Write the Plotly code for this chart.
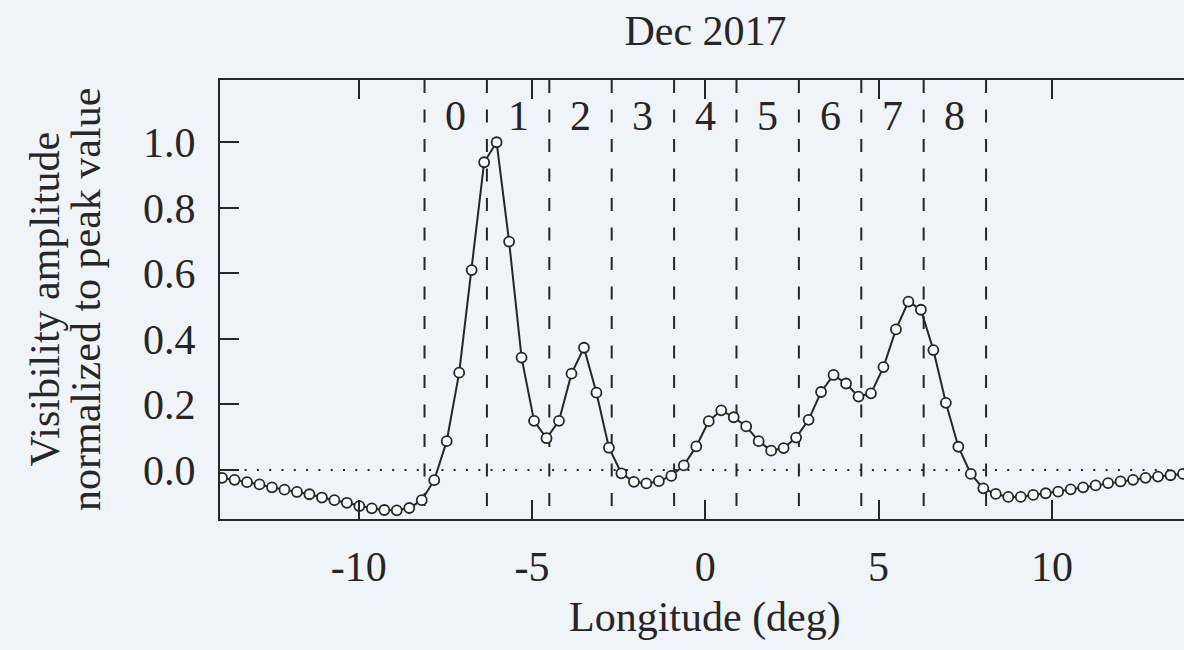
import plotly.graph_objects as go

# ---- data ----
longitude = [-13.94, -13.58, -13.22, -12.86, -12.50, -12.14, -11.78, -11.42, -11.06, -10.70,
             -10.34, -9.98, -9.62, -9.26, -8.90, -8.54, -8.18, -7.82, -7.46, -7.10,
             -6.74, -6.38, -6.02, -5.66, -5.30, -4.94, -4.58, -4.22, -3.86, -3.50,
             -3.14, -2.78, -2.42, -2.06, -1.70, -1.34, -0.98, -0.62, -0.26, 0.10,
             0.46, 0.82, 1.18, 1.54, 1.90, 2.26, 2.62, 2.98, 3.34, 3.70,
             4.06, 4.42, 4.78, 5.14, 5.50, 5.86, 6.22, 6.58, 6.94, 7.30,
             7.66, 8.02, 8.38, 8.74, 9.10, 9.46, 9.82, 10.18, 10.54, 10.90,
             11.26, 11.62, 11.98, 12.34, 12.70, 13.06, 13.42, 13.78]
amplitude = [-0.024, -0.030, -0.037, -0.044, -0.053, -0.060, -0.067, -0.074, -0.084, -0.092,
             -0.100, -0.110, -0.117, -0.122, -0.123, -0.116, -0.092, -0.031, 0.088, 0.297,
             0.610, 0.939, 1.000, 0.697, 0.343, 0.150, 0.097, 0.150, 0.294, 0.373,
             0.236, 0.068, -0.010, -0.036, -0.041, -0.034, -0.018, 0.014, 0.072, 0.149,
             0.182, 0.161, 0.133, 0.088, 0.059, 0.067, 0.099, 0.153, 0.238, 0.290,
             0.264, 0.224, 0.234, 0.314, 0.429, 0.514, 0.489, 0.366, 0.205, 0.071,
             -0.012, -0.056, -0.073, -0.082, -0.082, -0.076, -0.071, -0.066, -0.059, -0.053,
             -0.047, -0.040, -0.035, -0.030, -0.024, -0.020, -0.016, -0.012]
zone_bounds = [-8.1, -6.3, -4.5, -2.7, -0.9, 0.9, 2.7, 4.5, 6.3, 8.1]
zone_labels = ["0", "1", "2", "3", "4", "5", "6", "7", "8"]
zone_label_y = 1.081
x_tickvals = [-10, -5, 0, 5, 10]
x_ticktext = ["-10", "-5", "0", "5", "10"]
y_tickvals = [0.0, 0.2, 0.4, 0.6, 0.8, 1.0]
y_ticktext = ["0.0", "0.2", "0.4", "0.6", "0.8", "1.0"]
title_text = "Dec 2017"
x_title = "Longitude (deg)"
y_title_1 = "Visibility amplitude"
y_title_2 = "normalized to peak value"

# ---- style ----
BG = "#f0f3f8"
INK = "#262626"
FONT = "Liberation Serif"
FS = 42
X_RANGE = [-14.0, 13.81]
Y_RANGE = [-0.1495, 1.190]

fig = go.Figure()

fig.add_trace(go.Scatter(
    x=longitude, y=amplitude, mode="lines+markers",
    line=dict(color=INK, width=2),
    marker=dict(symbol="circle", size=10, color="white", line=dict(color=INK, width=1.8)),
    showlegend=False, hoverinfo="skip",
))

# zone boundaries (dashed)
for b in zone_bounds:
    fig.add_shape(type="line", xref="x", yref="y domain", x0=b, x1=b, y0=1, y1=0,
                  line=dict(color=INK, width=2, dash="13px,16.5px"), layer="below")

# zero line (dotted)
fig.add_shape(type="line", xref="x domain", yref="y", x0=0, x1=1, y0=0, y1=0,
              line=dict(color=INK, width=2, dash="2px,10.3px"), layer="below")

# zone labels
for i, lab in enumerate(zone_labels):
    cx = (zone_bounds[i] + zone_bounds[i + 1]) / 2
    fig.add_annotation(x=cx, y=zone_label_y, xref="x", yref="y", text=lab, showarrow=False,
                       font=dict(family=FONT, size=FS, color=INK), xanchor="center", yanchor="middle")

# axis titles as annotations
fig.add_annotation(x=0.5036, y=-0.2255, xref="paper", yref="paper", text=x_title, showarrow=False,
                   font=dict(family=FONT, size=FS, color=INK), xanchor="center", yanchor="middle")
fig.add_annotation(x=-0.1825, y=0.5, xref="paper", yref="paper", text=y_title_1, showarrow=False,
                   textangle=-90, font=dict(family=FONT, size=FS, color=INK),
                   xanchor="center", yanchor="middle")
fig.add_annotation(x=-0.1395, y=0.5, xref="paper", yref="paper", text=y_title_2, showarrow=False,
                   textangle=-90, font=dict(family=FONT, size=FS, color=INK),
                   xanchor="center", yanchor="middle")

fig.update_layout(
    width=1184, height=650,
    margin=dict(l=220, r=0, t=80, b=131, pad=0),
    paper_bgcolor=BG, plot_bgcolor=BG,
    font=dict(family=FONT, size=FS, color=INK),
    title=dict(text=title_text, x=0.5036, xref="paper", xanchor="center",
               y=1 - 30 / 650, yref="container", yanchor="middle",
               font=dict(family=FONT, size=FS, color=INK)),
    xaxis=dict(range=X_RANGE, showgrid=False, zeroline=False,
               showline=True, linecolor=INK, linewidth=2, mirror="ticks",
               ticks="inside", ticklen=19, tickwidth=2, tickcolor=INK,
               tickvals=x_tickvals, ticktext=x_ticktext, ticklabelstandoff=10,
               tickfont=dict(family=FONT, size=FS, color=INK)),
    yaxis=dict(range=Y_RANGE, showgrid=False, zeroline=False,
               showline=True, linecolor=INK, linewidth=2, mirror=False,
               ticks="inside", ticklen=19, tickwidth=2, tickcolor=INK,
               tickvals=y_tickvals, ticktext=y_ticktext, ticklabelstandoff=14,
               tickfont=dict(family=FONT, size=FS, color=INK)),
    yaxis2=dict(range=Y_RANGE, overlaying="y", side="right", showgrid=False, zeroline=False,
                showline=False, ticks="inside", ticklen=13, tickwidth=2, tickcolor=INK,
                tickvals=y_tickvals, showticklabels=False),
)

fig.write_html("out.html")
